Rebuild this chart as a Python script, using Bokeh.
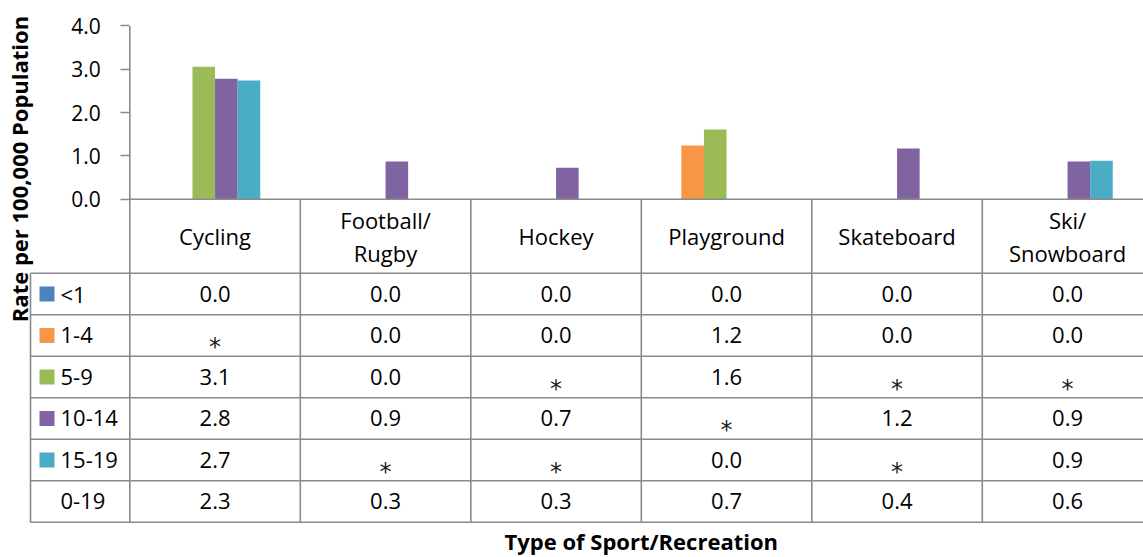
import math
from bokeh.plotting import figure
from bokeh.models import Range1d, LinearAxis, FixedTicker, NumeralTickFormatter
from bokeh.core.properties import value
from bokeh.embed import file_html
from bokeh.resources import INLINE

# ---------------- data ----------------
categories = ["Cycling", "Football/\nRugby", "Hockey", "Playground", "Skateboard", "Ski/\nSnowboard"]
age_groups = ["<1", "1-4", "5-9", "10-14", "15-19", "0-19"]
age_colors = ["#4F81BD", "#F79646", "#9BBB59", "#8064A2", "#4BACC6", None]
rate_lt1 = [0.0, 0.0, 0.0, 0.0, 0.0, 0.0]
rate_1_4 = [None, 0.0, 0.0, 1.24, 0.0, 0.0]
rate_5_9 = [3.06, 0.0, None, 1.61, None, None]
rate_10_14 = [2.78, 0.87, 0.73, None, 1.17, 0.87]
rate_15_19 = [2.74, None, None, 0.0, None, 0.89]
rate_0_19 = [2.3, 0.3, 0.3, 0.7, 0.4, 0.6]
y_ticks = [0, 1, 2, 3, 4]
y_title = "Rate per 100,000 Population"
x_title = "Type of Sport/Recreation"
suppressed = "*"

series = [rate_lt1, rate_1_4, rate_5_9, rate_10_14, rate_15_19, rate_0_19]

# ---------------- layout (pixels) ----------------
FIG_W, FIG_H = 1143, 555
AXIS_PX = 129.3      # value axis distance from figure left
CAT_PX = 170.5       # width of one category column
ZERO_PX = 198.8      # zero line distance from figure top
UNIT_PX = 43.35      # pixels per 1.0 of rate
HEADER_PX = 73.9
ROW_PX = 41.5
LEG_LEFT_PX = 30.0
SQ_CENTER_PX = 46.5
LABEL_LEFT_PX = 60.0
BAR_PX = 22.6
GRID = "#8a8a8a"
FONT = "Open Sans"


def px_x(px):
    return (px - AXIS_PX) / CAT_PX


def px_y(py):
    return (ZERO_PX - py) / UNIT_PX


p = figure(width=FIG_W, height=FIG_H, output_backend="svg", toolbar_location=None,
           x_range=Range1d(px_x(0), px_x(FIG_W)), y_range=Range1d(px_y(FIG_H), px_y(0)),
           x_axis_location=None, y_axis_location=None, title=None, tools="")
p.min_border = 0
p.outline_line_color = None
p.background_fill_color = "white"
p.border_fill_color = "white"
p.grid.visible = False

ncat = len(categories)
nser = len(series)
bar_w = BAR_PX / CAT_PX
header_h = HEADER_PX / UNIT_PX
row_h = ROW_PX / UNIT_PX
leg_left = px_x(LEG_LEFT_PX)
table_bottom = -header_h - nser * row_h

# ---------------- bars ----------------
for j, (vals, col) in enumerate(zip(series, age_colors)):
    if col is None:
        continue
    xs, tops = [], []
    for i, v in enumerate(vals):
        if v is not None and v > 0:
            xs.append(i + 0.5 + (j - (nser - 1) / 2) * bar_w)
            tops.append(v)
    if xs:
        p.vbar(x=xs, top=tops, bottom=0, width=bar_w, fill_color=col, line_color=None)

# ---------------- table grid ----------------
x0s, y0s, x1s, y1s = [], [], [], []
x0s.append(0); y0s.append(max(y_ticks)); x1s.append(0); y1s.append(table_bottom)
for k in range(1, ncat + 1):
    x0s.append(k); y0s.append(0); x1s.append(k); y1s.append(table_bottom)
x0s.append(leg_left); y0s.append(-header_h); x1s.append(leg_left); y1s.append(table_bottom)
x0s.append(0); y0s.append(0); x1s.append(ncat); y1s.append(0)
for k in range(nser + 1):
    yy = -header_h - k * row_h
    x0s.append(leg_left); y0s.append(yy); x1s.append(ncat); y1s.append(yy)
p.segment(x0=x0s, y0=y0s, x1=x1s, y1=y1s, line_color=GRID, line_width=1.6)

# ---------------- category headers ----------------
p.text(x=[i + 0.5 for i in range(ncat)], y=[-header_h / 2] * ncat, text=categories,
       text_font=value(FONT), text_font_size="22px", text_color="#000000",
       text_align="center", text_baseline="middle", text_line_height=1.1)

# ---------------- legend column ----------------
row_c = [-header_h - (j + 0.5) * row_h for j in range(nser)]
sq_x, sq_y, sq_c = [], [], []
for j, col in enumerate(age_colors):
    if col is not None:
        sq_x.append(px_x(SQ_CENTER_PX))
        sq_y.append(row_c[j]); sq_c.append(col)
p.scatter(x=sq_x, y=sq_y, marker="square", size=15, fill_color=sq_c, line_color=None)
p.text(x=[px_x(LABEL_LEFT_PX)] * nser, y=row_c, text=age_groups,
       text_font=value(FONT), text_font_size="22px", text_color="#000000",
       text_align="left", text_baseline="middle")

# ---------------- table values ----------------
nx, ny, nt, sx, sy = [], [], [], [], []
for j, vals in enumerate(series):
    for i, v in enumerate(vals):
        if v is None:
            sx.append(i + 0.5); sy.append(row_c[j])
        else:
            nx.append(i + 0.5); ny.append(row_c[j]); nt.append(f"{v:.1f}")
p.text(x=nx, y=ny, text=nt, text_font=value(FONT), text_font_size="22px",
       text_color="#000000", text_align="center", text_baseline="middle")
p.text(x=sx, y=sy, text=[suppressed] * len(sx), text_font=value("DejaVu Sans"), text_font_size="24px",
       text_color="#222222", text_align="center", text_baseline="alphabetic", y_offset=12)

# ---------------- value axis ----------------
yaxis = LinearAxis(fixed_location=0, ticker=FixedTicker(ticks=y_ticks),
                   formatter=NumeralTickFormatter(format="0.0"))
yaxis.axis_line_color = None
yaxis.major_tick_in = 0
yaxis.major_tick_out = 9
yaxis.major_tick_line_color = GRID
yaxis.major_tick_line_width = 1.6
yaxis.minor_tick_line_color = None
yaxis.major_label_text_font = FONT
yaxis.major_label_text_font_size = "21px"
yaxis.major_label_text_color = "#000000"
yaxis.major_label_standoff = 20
p.add_layout(yaxis, "left")

# ---------------- axis titles ----------------
p.text(x=[px_x(18)], y=[px_y(168.5)], text=[y_title], angle=math.pi / 2,
       text_font=value(FONT), text_font_size="22px", text_font_style="bold",
       text_color="#000000", text_align="center", text_baseline="middle")
p.text(x=[ncat / 2], y=[px_y(540.5)], text=[x_title],
       text_font=value(FONT), text_font_size="22px", text_font_style="bold",
       text_color="#000000", text_align="center", text_baseline="middle")

open("out.html", "w").write(file_html(p, INLINE))
